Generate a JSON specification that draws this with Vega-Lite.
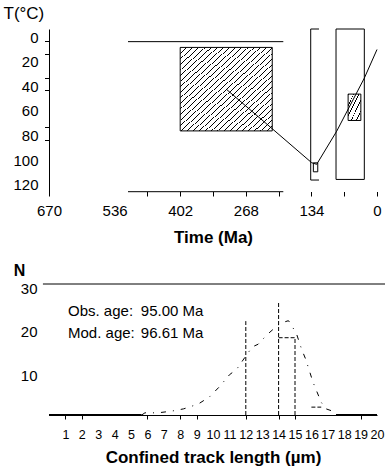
{
"$schema": "https://vega.github.io/schema/vega-lite/v6.json",
"padding": {"left": 3, "top": 4, "right": 0, "bottom": 0},
"background": "white",
"config": {
 "view": {"stroke": null},
 "axis": {"labelFont": "Liberation Sans", "titleFont": "Liberation Sans", "labelColor": "black", "titleColor": "black", "domainColor": "black", "tickColor": "black", "grid": false, "labelOverlap": false, "labelFlush": false},
 "text": {"font": "Liberation Sans", "color": "black"}
},
"datasets": {
 "hatchBig": [{"t": 402, "t2": 214, "T": 5, "T2": 73}],
 "hatchSmall": [{"t": 59, "t2": 33, "T": 43, "T2": 64.5}],
 "boxes": [{"t": 83.7, "t2": 25.9, "T": -10, "T2": 112.5}, {"t": 130, "t2": 121, "T": 99, "T2": 106.3}],
 "lines": [
  {"t": 508.6, "t2": 191.4, "T": 0.3, "T2": 0.3},
  {"t": 508.6, "t2": 191.4, "T": 122.5, "T2": 122.5},
  {"t": 135.4, "t2": 135.4, "T": -10, "T2": 113},
  {"t": 135.4, "t2": 118.5, "T": -10, "T2": -10},
  {"t": 135.4, "t2": 118.5, "T": 113, "T2": 113}
 ],
 "path": [
  {"i": 1, "t": 307, "T": 39.3},
  {"i": 2, "t": 133.4, "T": 98.9},
  {"i": 3, "t": 123.2, "T": 100.2},
  {"i": 4, "t": 82.3, "T": 73.2},
  {"i": 5, "t": 25.9, "T": 30},
  {"i": 6, "t": 0, "T": 6.7}
 ],
 "topline": [{"L": -0.37, "L2": 20.5, "N": 30, "N2": 30}],
 "hist": [
  {"L": 12, "L2": 12, "N": 0, "N2": 21.5},
  {"L": 14, "L2": 14, "N": 0, "N2": 25.7},
  {"L": 15, "L2": 15, "N": 0, "N2": 17.7},
  {"L": 14, "L2": 15, "N": 17.7, "N2": 17.7},
  {"L": 16, "L2": 16.6, "N": 1.8, "N2": 1.8}
 ],
 "zero": [{"L": 0, "L2": 5.65, "N": 0, "N2": 0}, {"L": 17.5, "L2": 20, "N": 0, "N2": 0}],
 "model": [
  {"i": 1, "L": 5.65, "N": 0}, {"i": 2, "L": 5.85, "N": 0.5}, {"i": 3, "L": 6.66, "N": 0.5}, {"i": 4, "L": 7.5, "N": 0.9},
  {"i": 5, "L": 8.2, "N": 1.4}, {"i": 6, "L": 9.1, "N": 2.5}, {"i": 7, "L": 9.8, "N": 4.2}, {"i": 8, "L": 10.4, "N": 6.5},
  {"i": 9, "L": 11.0, "N": 9.2}, {"i": 10, "L": 11.45, "N": 10.5}, {"i": 11, "L": 12.0, "N": 13.5}, {"i": 12, "L": 12.4, "N": 15.6},
  {"i": 13, "L": 12.75, "N": 16.2}, {"i": 14, "L": 13.3, "N": 18.4}, {"i": 15, "L": 13.9, "N": 20.4}, {"i": 16, "L": 14.1, "N": 21.0},
  {"i": 17, "L": 14.6, "N": 21.6}, {"i": 18, "L": 14.75, "N": 20.8}, {"i": 19, "L": 15.1, "N": 18.5}, {"i": 20, "L": 15.4, "N": 15.1},
  {"i": 21, "L": 15.65, "N": 12.8}, {"i": 22, "L": 16.1, "N": 7.5}, {"i": 23, "L": 16.6, "N": 2.9}, {"i": 24, "L": 16.9, "N": 1.4},
  {"i": 25, "L": 17.2, "N": 1.0}, {"i": 26, "L": 17.5, "N": 0}
 ],
 "notes": [
  {"L": 1.16, "N": 23.8, "txt": "Obs. age:"},
  {"L": 5.6, "N": 23.8, "txt": "95.00 Ma"},
  {"L": 1.16, "N": 18.8, "txt": "Mod. age:"},
  {"L": 5.6, "N": 18.8, "txt": "96.61 Ma"}
 ]
},
"spacing": 88,
"bounds": "flush",
"vconcat": [
 {
  "width": 328,
  "height": 167,
  "encoding": {
   "x": {"field": "t", "type": "quantitative",
    "scale": {"domain": [0, 670], "reverse": true, "nice": false, "zero": false},
    "axis": {"values": [0, 67, 134, 201, 268, 335, 402, 469, 536, 603, 670],
     "labelExpr": "datum.value % 134 == 0 ? datum.label : ''",
     "tickOpacity": {"condition": {"test": "datum.value <= 469", "value": 1}, "value": 0},
     "tickSize": -4.5, "domain": false, "labelPadding": 18.5, "labelBaseline": "middle", "labelFontSize": 15,
     "title": "Time (Ma)", "titleFontSize": 17, "titleFontWeight": "bold", "titleY": 41, "titleBaseline": "middle"}},
   "y": {"field": "T", "type": "quantitative",
    "scale": {"domain": [-10, 126], "reverse": true, "nice": false, "zero": false},
    "axis": {"values": [0, 10, 20, 30, 40, 60, 70, 80, 100, 120],
     "labelExpr": "datum.value % 20 == 0 ? datum.label : ''",
     "tickOpacity": {"condition": {"test": "indexof([0,10,30,40,70,80], datum.value) >= 0", "value": 1}, "value": 0},
     "tickSize": 4.5, "labelPadding": 6.5, "labelOffset": -4, "labelFontSize": 15, "domain": true,
     "title": "T(°C)", "titleAngle": 0, "titleAlign": "left", "titleBaseline": "top", "titleX": -46, "titleY": -23.5,
     "titleFontSize": 17, "titleFontWeight": "normal"}}
  },
  "layer": [
   {"data": {"name": "hatchBig"},
    "mark": {"type": "rect", "stroke": "black", "strokeWidth": 1,
     "fill": {"gradient": "linear", "x1": 0, "y1": 0, "x2": 1, "y2": 1, "stops": [
      {"offset": 0, "color": "#000"}, {"offset": 0.0055, "color": "#000"}, {"offset": 0.0055, "color": "#fff"}, {"offset": 0.0333, "color": "#fff"},
      {"offset": 0.0333, "color": "#000"}, {"offset": 0.0388, "color": "#000"}, {"offset": 0.0388, "color": "#fff"}, {"offset": 0.0667, "color": "#fff"},
      {"offset": 0.0667, "color": "#000"}, {"offset": 0.0722, "color": "#000"}, {"offset": 0.0722, "color": "#fff"}, {"offset": 0.1, "color": "#fff"},
      {"offset": 0.1, "color": "#000"}, {"offset": 0.1055, "color": "#000"}, {"offset": 0.1055, "color": "#fff"}, {"offset": 0.1333, "color": "#fff"},
      {"offset": 0.1333, "color": "#000"}, {"offset": 0.1388, "color": "#000"}, {"offset": 0.1388, "color": "#fff"}, {"offset": 0.1667, "color": "#fff"},
      {"offset": 0.1667, "color": "#000"}, {"offset": 0.1722, "color": "#000"}, {"offset": 0.1722, "color": "#fff"}, {"offset": 0.2, "color": "#fff"},
      {"offset": 0.2, "color": "#000"}, {"offset": 0.2055, "color": "#000"}, {"offset": 0.2055, "color": "#fff"}, {"offset": 0.2333, "color": "#fff"},
      {"offset": 0.2333, "color": "#000"}, {"offset": 0.2388, "color": "#000"}, {"offset": 0.2388, "color": "#fff"}, {"offset": 0.2667, "color": "#fff"},
      {"offset": 0.2667, "color": "#000"}, {"offset": 0.2722, "color": "#000"}, {"offset": 0.2722, "color": "#fff"}, {"offset": 0.3, "color": "#fff"},
      {"offset": 0.3, "color": "#000"}, {"offset": 0.3055, "color": "#000"}, {"offset": 0.3055, "color": "#fff"}, {"offset": 0.3333, "color": "#fff"},
      {"offset": 0.3333, "color": "#000"}, {"offset": 0.3388, "color": "#000"}, {"offset": 0.3388, "color": "#fff"}, {"offset": 0.3667, "color": "#fff"},
      {"offset": 0.3667, "color": "#000"}, {"offset": 0.3722, "color": "#000"}, {"offset": 0.3722, "color": "#fff"}, {"offset": 0.4, "color": "#fff"},
      {"offset": 0.4, "color": "#000"}, {"offset": 0.4055, "color": "#000"}, {"offset": 0.4055, "color": "#fff"}, {"offset": 0.4333, "color": "#fff"},
      {"offset": 0.4333, "color": "#000"}, {"offset": 0.4388, "color": "#000"}, {"offset": 0.4388, "color": "#fff"}, {"offset": 0.4667, "color": "#fff"},
      {"offset": 0.4667, "color": "#000"}, {"offset": 0.4722, "color": "#000"}, {"offset": 0.4722, "color": "#fff"}, {"offset": 0.5, "color": "#fff"},
      {"offset": 0.5, "color": "#000"}, {"offset": 0.5055, "color": "#000"}, {"offset": 0.5055, "color": "#fff"}, {"offset": 0.5333, "color": "#fff"},
      {"offset": 0.5333, "color": "#000"}, {"offset": 0.5388, "color": "#000"}, {"offset": 0.5388, "color": "#fff"}, {"offset": 0.5667, "color": "#fff"},
      {"offset": 0.5667, "color": "#000"}, {"offset": 0.5722, "color": "#000"}, {"offset": 0.5722, "color": "#fff"}, {"offset": 0.6, "color": "#fff"},
      {"offset": 0.6, "color": "#000"}, {"offset": 0.6055, "color": "#000"}, {"offset": 0.6055, "color": "#fff"}, {"offset": 0.6333, "color": "#fff"},
      {"offset": 0.6333, "color": "#000"}, {"offset": 0.6388, "color": "#000"}, {"offset": 0.6388, "color": "#fff"}, {"offset": 0.6667, "color": "#fff"},
      {"offset": 0.6667, "color": "#000"}, {"offset": 0.6722, "color": "#000"}, {"offset": 0.6722, "color": "#fff"}, {"offset": 0.7, "color": "#fff"},
      {"offset": 0.7, "color": "#000"}, {"offset": 0.7055, "color": "#000"}, {"offset": 0.7055, "color": "#fff"}, {"offset": 0.7333, "color": "#fff"},
      {"offset": 0.7333, "color": "#000"}, {"offset": 0.7388, "color": "#000"}, {"offset": 0.7388, "color": "#fff"}, {"offset": 0.7667, "color": "#fff"},
      {"offset": 0.7667, "color": "#000"}, {"offset": 0.7722, "color": "#000"}, {"offset": 0.7722, "color": "#fff"}, {"offset": 0.8, "color": "#fff"},
      {"offset": 0.8, "color": "#000"}, {"offset": 0.8055, "color": "#000"}, {"offset": 0.8055, "color": "#fff"}, {"offset": 0.8333, "color": "#fff"},
      {"offset": 0.8333, "color": "#000"}, {"offset": 0.8388, "color": "#000"}, {"offset": 0.8388, "color": "#fff"}, {"offset": 0.8667, "color": "#fff"},
      {"offset": 0.8667, "color": "#000"}, {"offset": 0.8722, "color": "#000"}, {"offset": 0.8722, "color": "#fff"}, {"offset": 0.9, "color": "#fff"},
      {"offset": 0.9, "color": "#000"}, {"offset": 0.9055, "color": "#000"}, {"offset": 0.9055, "color": "#fff"}, {"offset": 0.9333, "color": "#fff"},
      {"offset": 0.9333, "color": "#000"}, {"offset": 0.9388, "color": "#000"}, {"offset": 0.9388, "color": "#fff"}, {"offset": 0.9667, "color": "#fff"},
      {"offset": 0.9667, "color": "#000"}, {"offset": 0.9722, "color": "#000"}, {"offset": 0.9722, "color": "#fff"}, {"offset": 1, "color": "#fff"}
     ]}},
    "encoding": {"x2": {"field": "t2"}, "y2": {"field": "T2"}}},
   {"data": {"name": "hatchSmall"},
    "mark": {"type": "rect", "stroke": "black", "strokeWidth": 1,
     "fill": {"gradient": "linear", "x1": 0, "y1": 0, "x2": 1, "y2": 1, "stops": [
      {"offset": 0, "color": "#000"}, {"offset": 0.035, "color": "#000"}, {"offset": 0.035, "color": "#fff"}, {"offset": 0.2, "color": "#fff"},
      {"offset": 0.2, "color": "#000"}, {"offset": 0.235, "color": "#000"}, {"offset": 0.235, "color": "#fff"}, {"offset": 0.4, "color": "#fff"},
      {"offset": 0.4, "color": "#000"}, {"offset": 0.435, "color": "#000"}, {"offset": 0.435, "color": "#fff"}, {"offset": 0.6, "color": "#fff"},
      {"offset": 0.6, "color": "#000"}, {"offset": 0.635, "color": "#000"}, {"offset": 0.635, "color": "#fff"}, {"offset": 0.8, "color": "#fff"},
      {"offset": 0.8, "color": "#000"}, {"offset": 0.835, "color": "#000"}, {"offset": 0.835, "color": "#fff"}, {"offset": 1, "color": "#fff"}
     ]}},
    "encoding": {"x2": {"field": "t2"}, "y2": {"field": "T2"}}},
   {"data": {"name": "boxes"},
    "mark": {"type": "rect", "stroke": "black", "strokeWidth": 1, "fill": null, "fillOpacity": 0},
    "encoding": {"x2": {"field": "t2"}, "y2": {"field": "T2"}}},
   {"data": {"name": "lines"},
    "mark": {"type": "rule", "color": "black", "strokeWidth": 1},
    "encoding": {"x2": {"field": "t2"}, "y2": {"field": "T2"}}},
   {"data": {"name": "path"},
    "mark": {"type": "line", "color": "black", "strokeWidth": 1},
    "encoding": {"order": {"field": "i", "type": "quantitative"}}}
  ]
 },
 {
  "width": 328,
  "height": 131,
  "encoding": {
   "x": {"field": "L", "type": "quantitative",
    "scale": {"domain": [0, 20], "nice": false, "zero": false},
    "axis": {"values": [1, 2, 3, 4, 5, 6, 7, 8, 9, 10, 11, 12, 13, 14, 15, 16, 17, 18, 19, 20],
     "tickOpacity": {"condition": {"test": "indexof([1,2,6,8,9,12,14,15,19], datum.value) >= 0", "value": 1}, "value": 0},
     "tickSize": 4, "labelPadding": 15.7, "labelBaseline": "middle", "labelFontSize": 12.5, "domain": true,
     "title": "Confined track length (µm)", "titleFontSize": 17, "titleFontWeight": "bold", "titleY": 42.4, "titleBaseline": "middle"}},
   "y": {"field": "N", "type": "quantitative",
    "scale": {"domain": [0, 30], "nice": false, "zero": false},
    "axis": {"values": [10, 20, 30], "ticks": false, "tickSize": 0, "domain": false, "labelPadding": 12, "labelOffset": 4, "labelFontSize": 15,
     "title": "N", "titleAngle": 0, "titleAlign": "center", "titleBaseline": "middle", "titleX": -30, "titleY": -14,
     "titleFontSize": 16, "titleFontWeight": "bold"}}
  },
  "layer": [
   {"data": {"name": "topline"},
    "mark": {"type": "rule", "color": "black", "strokeWidth": 1},
    "encoding": {"x2": {"field": "L2"}, "y2": {"field": "N2"}}},
   {"data": {"name": "hist"},
    "mark": {"type": "rule", "color": "black", "strokeWidth": 1, "strokeDash": [4, 2]},
    "encoding": {"x2": {"field": "L2"}, "y2": {"field": "N2"}}},
   {"data": {"name": "zero"},
    "mark": {"type": "rule", "color": "black", "strokeWidth": 2},
    "encoding": {"x2": {"field": "L2"}, "y2": {"field": "N2"}}},
   {"data": {"name": "model"},
    "mark": {"type": "line", "color": "black", "strokeWidth": 1, "strokeDash": [5, 7, 1, 7]},
    "encoding": {"order": {"field": "i", "type": "quantitative"}}},
   {"data": {"name": "notes"},
    "mark": {"type": "text", "align": "left", "baseline": "middle", "fontSize": 15},
    "encoding": {"text": {"field": "txt", "type": "nominal"}}}
  ]
 }
]
}
